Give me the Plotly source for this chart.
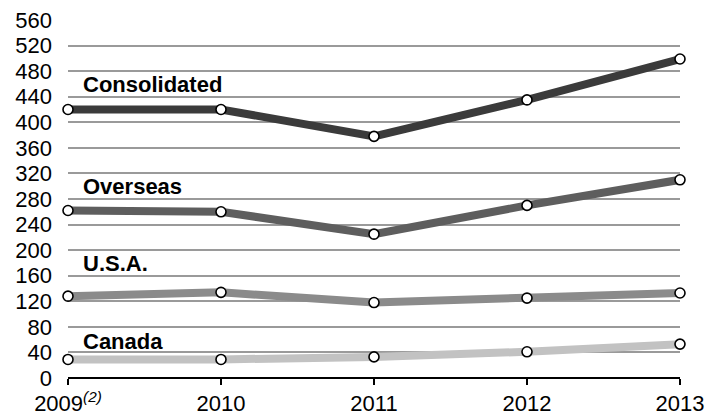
import plotly.graph_objects as go

years = [2009, 2010, 2011, 2012, 2013]
year_labels = ["2009<sup><i>(2)</i></sup>", "2010", "2011", "2012", "2013"]

consolidated = [420, 420, 378, 435, 499]
overseas = [262, 260, 225, 270, 310]
usa = [128, 134, 118, 125, 133]
canada = [29, 29, 33, 41, 53]

series_names = ["Consolidated", "Overseas", "U.S.A.", "Canada"]
series_values = [consolidated, overseas, usa, canada]
series_colors = ["#3b3b3b", "#5e5e5e", "#8b8b8b", "#c2c2c2"]
label_y = [459, 300, 179, 57]

y_ticks = list(range(0, 561, 40))

FONT = "Liberation Sans, Arial, sans-serif"

fig = go.Figure()

for name, vals, color in zip(series_names, series_values, series_colors):
    fig.add_trace(go.Scatter(
        x=years, y=vals, name=name, mode="lines+markers",
        line=dict(color=color, width=8),
        marker=dict(size=10, color="white", line=dict(color="black", width=1.6)),
        cliponaxis=False,
        showlegend=False,
    ))

for name, ly in zip(series_names, label_y):
    fig.add_annotation(
        x=2009, y=ly, xref="x", yref="y", text="<b>" + name + "</b>",
        showarrow=False, xanchor="left", yanchor="middle", xshift=13,
        font=dict(family=FONT, size=22, color="black"),
    )

fig.update_layout(
    width=711, height=415,
    margin=dict(l=68, r=31, t=20, b=37),
    paper_bgcolor="white", plot_bgcolor="white",
    font=dict(family=FONT, size=22, color="black"),
)

fig.update_xaxes(
    range=[2009, 2013], tickvals=years, ticktext=year_labels,
    showgrid=False, zeroline=False, automargin=False,
    showline=False, ticks="outside", ticklen=6, tickwidth=1.5, tickcolor="black",
    ticklabelstandoff=0,
    tickfont=dict(size=22),
)

fig.update_yaxes(
    range=[0, 560], tickvals=y_ticks, automargin=False,
    showgrid=True, gridcolor="#9a9a9a", gridwidth=1.5,
    zeroline=True, zerolinecolor="black", zerolinewidth=2,
    showline=False, ticks="", ticklabelstandoff=15,
    tickfont=dict(size=22),
)

fig.write_html("out.html")
